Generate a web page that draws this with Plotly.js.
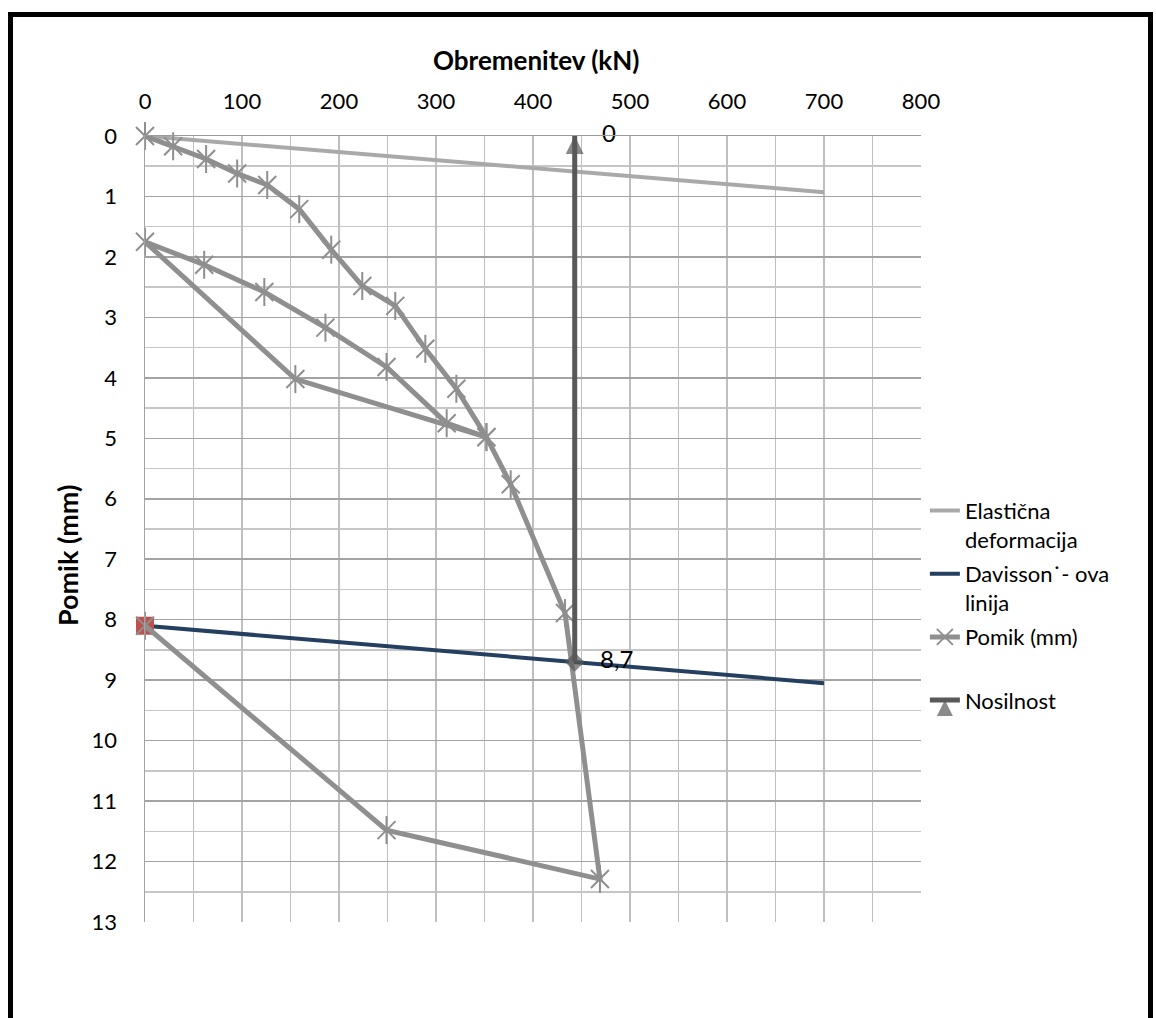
<!DOCTYPE html>
<html><head><meta charset="utf-8">
<script src="https://cdn.plot.ly/plotly-3.0.1.min.js"></script>
<style>
html,body{margin:0;padding:0;overflow:hidden;background:#fff;}
#chart{position:absolute;left:0;top:0;width:1156px;height:1018px;}
#frame{position:absolute;left:8px;top:12px;width:1145px;height:1100px;border:5px solid #000;box-sizing:border-box;pointer-events:none;}
</style></head><body>
<div id="chart"></div><div id="frame"></div>
<script>
// Data
const elasticX = [0, 700];
const elasticY = [0, 0.93];
const davissonX = [0, 700];
const davissonY = [8.1, 9.05];
const pomikX = [0, 29, 63, 95, 126, 159, 192, 224, 258, 289, 321, 352, 311, 249, 186, 123, 61, 0, 155, 352, 377, 433, 469, 249, 0];
const pomikY = [0, 0.17, 0.38, 0.62, 0.81, 1.21, 1.88, 2.48, 2.81, 3.52, 4.18, 4.98, 4.75, 3.82, 3.17, 2.58, 2.13, 1.75, 4.02, 4.98, 5.76, 7.89, 12.29, 11.48, 8.1];
const nosilnostX = [443, 443];
const nosilnostY = [0, 8.7];
const nosilnostLabels = ['\u2002\u20090', '\u2002\u20098,7'];
const seriesNames = ['Elastična<br>deformacija', 'Davisson˙- ova<br>linija', 'Pomik (mm)<br>&nbsp;', 'Nosilnost'];
const xTitle = 'Obremenitev (kN)';
const yTitle = 'Pomik (mm)';

const FONT = 'Lato, "Open Sans", sans-serif';
const pomikColor = '#8f8f8f';
const lastIdx = pomikX.length - 1;

const traces = [
  {x: elasticX, y: elasticY, name: seriesNames[0], legendgroup: 'g1', mode: 'lines',
   line: {color: '#a9a9a9', width: 4}},
  {x: davissonX, y: davissonY, name: seriesNames[1], legendgroup: 'g2', mode: 'lines',
   line: {color: '#243f60', width: 4}},
  {x: [pomikX[lastIdx]], y: [pomikY[lastIdx]], mode: 'markers', showlegend: false, cliponaxis: false,
   marker: {symbol: 'square', size: 18, color: '#c0504d'}},
  {x: pomikX, y: pomikY, name: seriesNames[2], legendgroup: 'g3', mode: 'lines+markers', cliponaxis: false,
   line: {color: pomikColor, width: 5},
   marker: {symbol: 'x-thin-open', size: 18, color: pomikColor, line: {color: pomikColor, width: 2}}},
  {x: pomikX, y: pomikY, mode: 'markers', showlegend: false, cliponaxis: false, legendgroup: 'g3',
   marker: {symbol: 'line-ns-open', size: 20, color: pomikColor, line: {color: pomikColor, width: 2}}},
  {x: nosilnostX, y: nosilnostY, name: seriesNames[3], legendgroup: 'g4', mode: 'lines+markers+text', cliponaxis: false,
   line: {color: '#595959', width: 5},
   marker: {symbol: ['arrow-up', 'diamond'], size: [18, 15], color: '#595959', line: {width: 0}},
   text: nosilnostLabels, textposition: 'middle right',
   textfont: {family: FONT, size: 24, color: '#000'}}
];

const layout = {
  width: 1156, height: 1018, autosize: false,
  margin: {l: 145, r: 235, t: 136, b: 96},
  paper_bgcolor: '#fff', plot_bgcolor: '#fff',
  font: {family: FONT, size: 22, color: '#000'},
  showlegend: true,
  legend: {x: 1.005, xanchor: 'left', y: 0.55, yanchor: 'top', valign: 'top',
           font: {family: FONT, size: 22, color: '#000'}, bgcolor: 'rgba(0,0,0,0)', tracegroupgap: 3},
  xaxis: {
    side: 'top', range: [0, 800], dtick: 100, tick0: 0, fixedrange: true,
    showgrid: true, gridcolor: '#bfbfbf', gridwidth: 1.5,
    minor: {dtick: 50, showgrid: true, gridcolor: '#bfbfbf', gridwidth: 1.5},
    zeroline: false, showline: true, linecolor: '#9a9a9a', linewidth: 1.5,
    ticks: 'outside', ticklen: 17, tickcolor: 'rgba(0,0,0,0)',
    tickfont: {family: FONT, size: 22, color: '#000'}
  },
  yaxis: {
    range: [13, 0], dtick: 1, tick0: 0, fixedrange: true,
    showgrid: true, gridcolor: '#a3a3a3', gridwidth: 1.5,
    minor: {dtick: 0.5, showgrid: true, gridcolor: '#c6c6c6', gridwidth: 1.5},
    zeroline: false, showline: true, linecolor: '#a3a3a3', linewidth: 1.5,
    ticks: 'outside', ticklen: 22, tickcolor: 'rgba(0,0,0,0)',
    tickfont: {family: FONT, size: 22, color: '#000'}
  },
  annotations: [
    {text: '<b>' + xTitle + '</b>', xref: 'paper', yref: 'paper', x: 0.504, y: 1.0967,
     xanchor: 'center', yanchor: 'middle', showarrow: false,
     font: {family: FONT, size: 26, color: '#000'}},
    {text: '<b>' + yTitle + '</b>', xref: 'paper', yref: 'paper', x: -0.099, y: 0.467,
     xanchor: 'center', yanchor: 'middle', textangle: -90, showarrow: false,
     font: {family: FONT, size: 27, color: '#000'}}
  ]
};

Plotly.newPlot('chart', traces, layout, {displayModeBar: false, staticPlot: true});
</script>
</body></html>
